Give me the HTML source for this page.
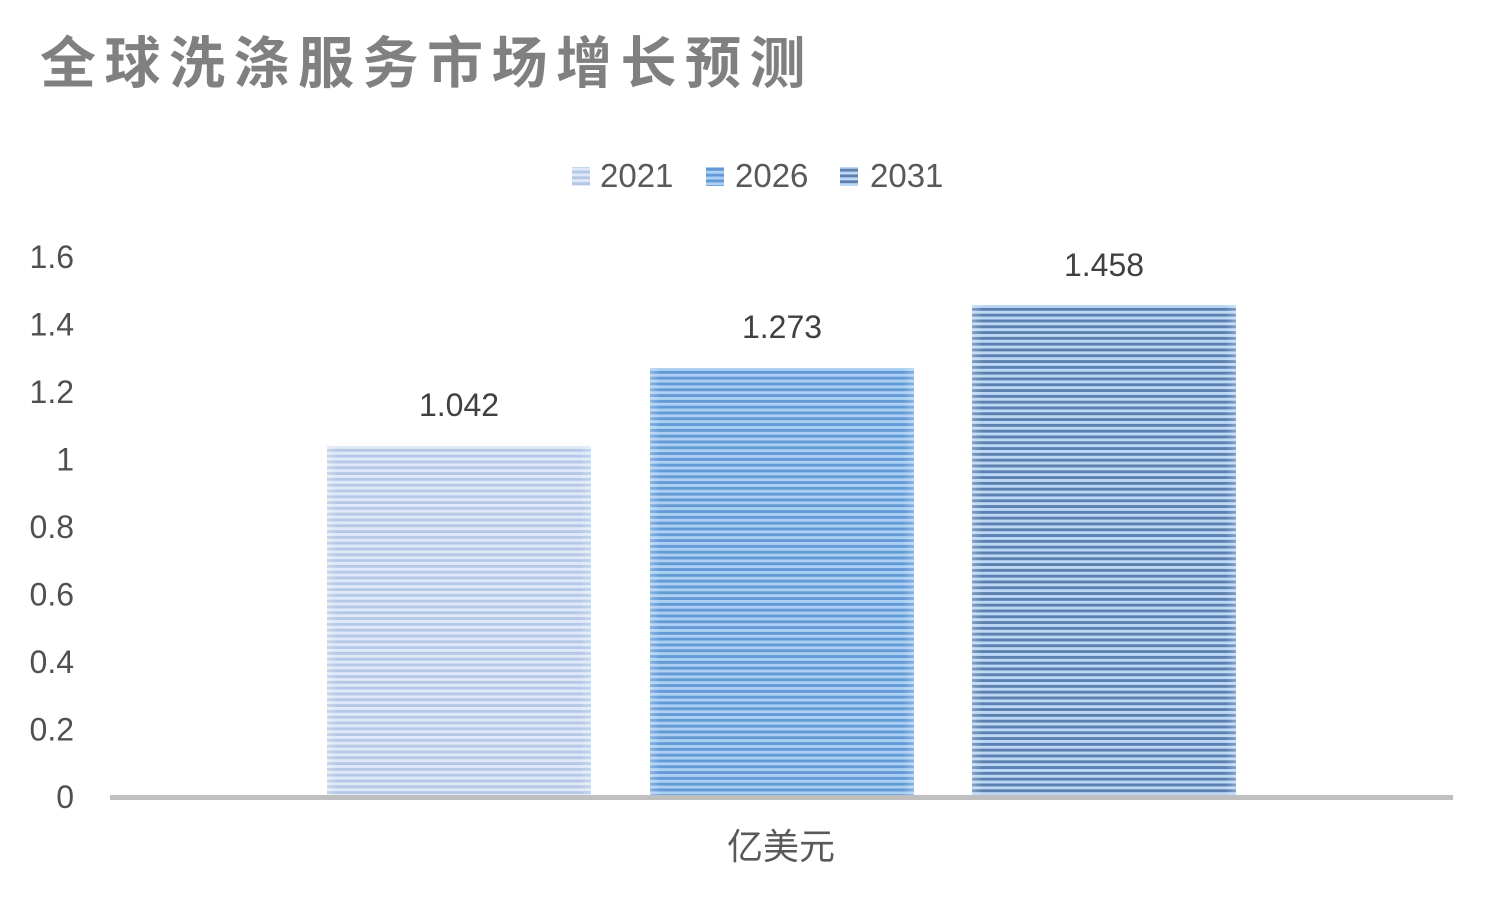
<!DOCTYPE html>
<html>
<head>
<meta charset="utf-8">
<style>
  html, body { margin:0; padding:0; background:#ffffff; }
  body { width:1500px; height:899px; overflow:hidden; position:relative; }
  svg { position:absolute; left:0; top:0; }
</style>
</head>
<body>
<svg width="1500" height="899" viewBox="0 0 1500 899" xmlns="http://www.w3.org/2000/svg">
  <defs>
    <pattern id="p1" patternUnits="userSpaceOnUse" width="10" height="5.8" y="446">
      <rect width="10" height="5.8" fill="#dfe9f7"/>
      <rect y="2.9" width="10" height="2.9" fill="#b5c9e7"/>
    </pattern>
    <pattern id="p2" patternUnits="userSpaceOnUse" width="10" height="5.8" y="368">
      <rect width="10" height="5.8" fill="#acd0f3"/>
      <rect y="2.9" width="10" height="2.9" fill="#639ad5"/>
    </pattern>
    <pattern id="p3" patternUnits="userSpaceOnUse" width="10" height="5.8" y="305">
      <rect width="10" height="5.8" fill="#bcd8f4"/>
      <rect y="2.9" width="10" height="2.9" fill="#5c81b1"/>
    </pattern>
    <linearGradient id="edge" x1="0" x2="1" y1="0" y2="0">
      <stop offset="0" stop-color="#ffffff" stop-opacity="0.25"/>
      <stop offset="0.04" stop-color="#ffffff" stop-opacity="0"/>
      <stop offset="0.96" stop-color="#ffffff" stop-opacity="0"/>
      <stop offset="1" stop-color="#ffffff" stop-opacity="0.25"/>
    </linearGradient>
  </defs>

  <!-- Title -->
  <text x="40" y="83" font-family="'Noto Sans CJK SC','WenQuanYi Zen Hei',sans-serif" font-weight="bold" font-size="56" fill="#808080" letter-spacing="8.5">全球洗涤服务市场增长预测</text>

  <!-- Legend -->
  <rect x="572" y="167" width="18" height="19" fill="url(#p1)"/>
  <text x="600" y="187" font-family="'Liberation Sans',sans-serif" font-size="33" fill="#595959">2021</text>
  <rect x="706" y="167" width="18" height="19" fill="url(#p2)"/>
  <text x="735" y="187" font-family="'Liberation Sans',sans-serif" font-size="33" fill="#595959">2026</text>
  <rect x="840" y="167" width="18" height="19" fill="url(#p3)"/>
  <text x="870" y="187" font-family="'Liberation Sans',sans-serif" font-size="33" fill="#595959">2031</text>

  <!-- Y axis tick labels -->
  <g font-family="'Liberation Sans',sans-serif" font-size="32" fill="#505050" text-anchor="end">
    <text x="74" y="268">1.6</text>
    <text x="74" y="335.5">1.4</text>
    <text x="74" y="403">1.2</text>
    <text x="74" y="470.5">1</text>
    <text x="74" y="538">0.8</text>
    <text x="74" y="605.5">0.6</text>
    <text x="74" y="673">0.4</text>
    <text x="74" y="740.5">0.2</text>
    <text x="74" y="808">0</text>
  </g>

  <!-- Bars -->
  <rect x="327" y="446" width="264" height="349" fill="url(#p1)"/>
  <rect x="327" y="446" width="264" height="349" fill="url(#edge)"/>
  <rect x="650" y="368" width="264" height="427" fill="url(#p2)"/>
  <rect x="650" y="368" width="264" height="427" fill="url(#edge)"/>
  <rect x="972" y="305" width="264" height="490" fill="url(#p3)"/>
  <rect x="972" y="305" width="264" height="490" fill="url(#edge)"/>

  <!-- Data labels -->
  <g font-family="'Liberation Sans',sans-serif" font-size="32" fill="#404040" text-anchor="middle">
    <text x="459" y="416">1.042</text>
    <text x="782" y="338">1.273</text>
    <text x="1104" y="276">1.458</text>
  </g>

  <!-- Axis line -->
  <rect x="110" y="795" width="1343" height="5" fill="#bfbfbf"/>

  <!-- Category label -->
  <text x="781" y="859" text-anchor="middle" font-family="'Noto Sans CJK SC','WenQuanYi Zen Hei',sans-serif" font-size="36" fill="#595959">亿美元</text>
</svg>
</body>
</html>
